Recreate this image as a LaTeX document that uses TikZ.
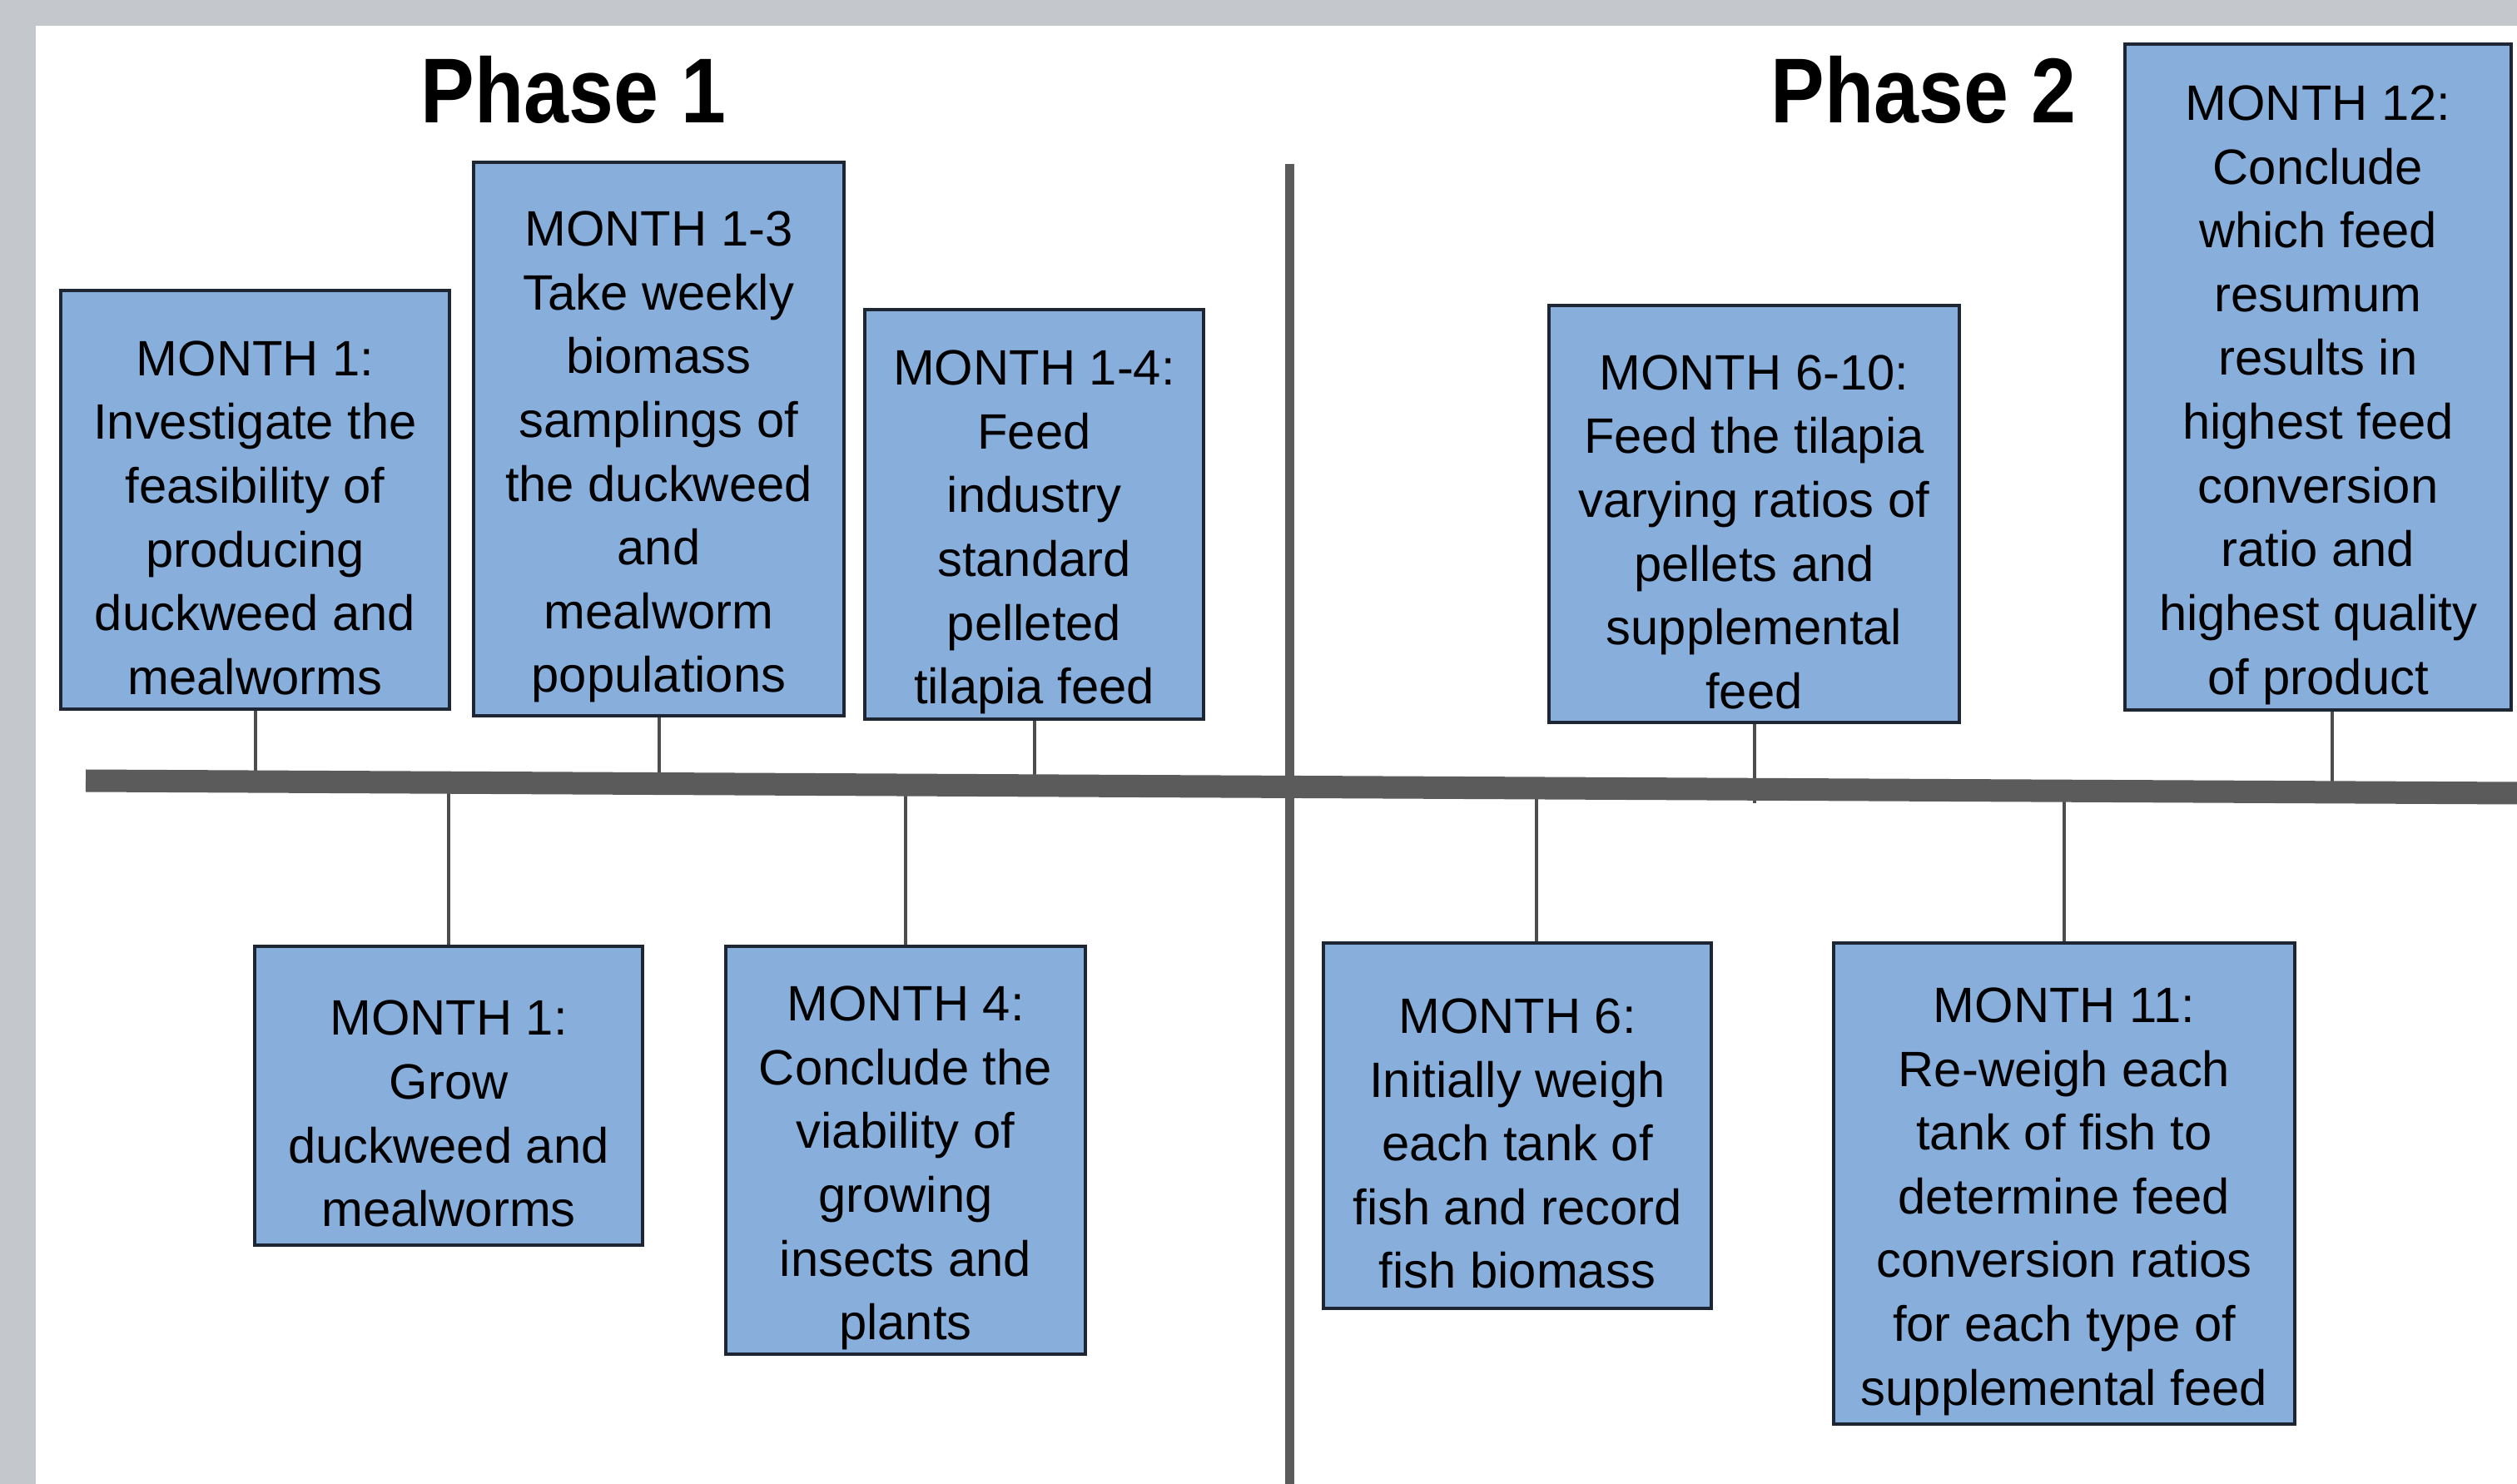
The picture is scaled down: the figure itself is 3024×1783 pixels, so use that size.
\documentclass[tikz,border=0pt]{standalone}
\usepackage{fontspec}
\setmainfont{Liberation Sans}
\usepackage{graphicx}
\definecolor{boxblue}{HTML}{88AFDC}
\definecolor{boxedge}{HTML}{1E2633}
\definecolor{stemgray}{HTML}{4D4D4D}
\definecolor{linegray}{HTML}{5B5B5B}
\definecolor{bggray}{HTML}{C4C7CB}
\newcommand{\topgap}{\rule{0pt}{0.85cm}}
\tikzset{
  monthbox/.style={draw=boxedge, fill=boxblue, line width=0.35mm, align=center, inner sep=0pt,
    font=\fontsize{17}{21.8}\selectfont},
  stem/.style={draw=stemgray, line width=0.4mm},
  phase/.style={anchor=base, font=\fontsize{31.5}{36}\selectfont\bfseries}
}
\begin{document}
\begin{tikzpicture}[line cap=butt,line join=miter,x=0.1mm,y=-0.1mm]
\useasboundingbox (0,0) rectangle (3024,1783);
\fill [bggray] (0,0) rectangle (3024,1783);
\fill [white] (43,31) rectangle (3024,1783);
%timeline ends
\coordinate (tl) at (103,938);
\coordinate (tr) at (3024,953);
\coordinate (axis) at (0,945);
\coordinate (divtop) at (1549,197);
\coordinate (divbot) at (1549,1783);
%phase 1, above the line
\node [monthbox, minimum width=4.67cm, minimum height=5.03cm] (m1a) at (306.5,600.5) {\topgap MONTH 1:\\Investigate the\\feasibility of\\producing\\duckweed and\\mealworms};
\node [monthbox, minimum width=4.45cm, minimum height=6.65cm] (m13) at (791.5,527.5) {\topgap MONTH 1-3\\Take weekly\\biomass\\samplings of\\the duckweed\\and\\mealworm\\populations};
\node [monthbox, minimum width=4.07cm, minimum height=4.92cm] (m14) at (1242.5,618) {\topgap MONTH 1-4:\\Feed\\industry\\standard\\pelleted\\tilapia feed};
%phase 1, below the line
\node [monthbox, minimum width=4.66cm, minimum height=3.59cm] (m1b) at (539,1316.5) {\topgap MONTH 1:\\Grow\\duckweed and\\mealworms};
\node [monthbox, minimum width=4.32cm, minimum height=4.90cm] (m4) at (1088,1382) {\topgap MONTH 4:\\Conclude the\\viability of\\growing\\insects and\\plants};
%phase 2
\node [monthbox, minimum width=4.93cm, minimum height=5.01cm] (m610) at (2107.5,617.5) {\topgap MONTH 6-10:\\Feed the tilapia\\varying ratios of\\pellets and\\supplemental\\feed};
\node [monthbox, minimum width=4.64cm, minimum height=8.00cm] (m12) at (2785,453) {\topgap MONTH 12:\\Conclude\\which feed\\resumum\\results in\\highest feed\\conversion\\ratio and\\highest quality\\of product};
\node [monthbox, minimum width=4.66cm, minimum height=4.39cm] (m6) at (1823,1352.5) {\topgap MONTH 6:\\Initially weigh\\each tank of\\fish and record\\fish biomass};
\node [monthbox, minimum width=5.54cm, minimum height=5.78cm] (m11) at (2480,1422) {\topgap MONTH 11:\\Re-weigh each\\tank of fish to\\determine feed\\conversion ratios\\for each type of\\supplemental feed};
%stems
\draw [stem] (m1a.south) -- (m1a.south |- axis);
\draw [stem] (m13.south) -- (m13.south |- axis);
\draw [stem] (m14.south) -- (m14.south |- axis);
\draw [stem] (m610.south) -- ([yshift=-0.2cm]m610.south |- axis);
\draw [stem] ([xshift=0.17cm]m12.south) -- ([xshift=0.17cm]m12.south |- axis);
\draw [stem] (m1b.north) -- (m1b.north |- axis);
\draw [stem] (m4.north) -- (m4.north |- axis);
\draw [stem] ([xshift=0.23cm]m6.north) -- ([xshift=0.23cm]m6.north |- axis);
\draw [stem] (m11.north) -- (m11.north |- axis);
%main line and divider
\draw [linegray, line width=0.27cm] (tl) -- (tr);
\draw [linegray, line width=0.11cm] (divtop) -- (divbot);
\node [phase] (ph1) at (689,148) {\scalebox{0.875}[1]{Phase 1}};
\node [phase] (ph2) at (2311,148) {\scalebox{0.875}[1]{Phase 2}};
\end{tikzpicture}
\end{document}
